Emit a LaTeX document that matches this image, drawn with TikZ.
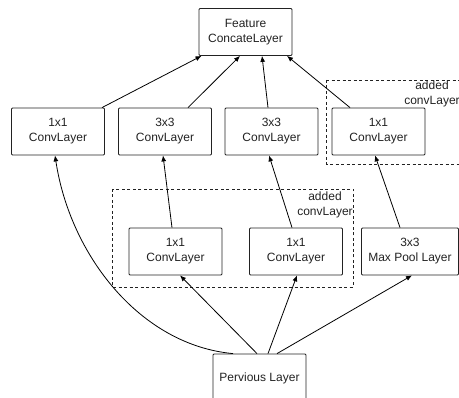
\documentclass[tikz,border=0pt]{standalone}
\usepackage{fontspec}
\setmainfont{Liberation Sans}
\usetikzlibrary{arrows.meta}
\definecolor{ink}{HTML}{222222}
\begin{document}
\begin{tikzpicture}[x=1pt,y=-1pt,
  layerbox/.style={draw=ink,line width=0.8pt,rounded corners=1pt,minimum width=93pt,minimum height=47pt,
    inner sep=0pt,align=center,font=\fontsize{12}{15}\selectfont,text=ink},
  groupbox/.style={draw=ink,line width=0.8pt,dash pattern=on 3pt off 2.5pt},
  grouplabel/.style={align=center,font=\fontsize{12}{15}\selectfont,text=ink,inner sep=0pt},
  link/.style={draw=black,line width=0.8pt,-{Latex[length=6pt,width=5pt]}}]
\useasboundingbox (0,0) rectangle (459,398);
\begin{scope}
\clip (0,0) rectangle (459,398);
% dashed groups
\draw[groupbox] (326,80) -- (470,80) (326,80) -- (326,164) -- (470,164);
\node[grouplabel] (lab1) at (432,94) {added\\convLayer};
\draw[groupbox] (112,189) rectangle (353,287);
\node[grouplabel] (lab2) at (325,205) {added\\convLayer};
% boxes
\node[layerbox] (feat) at (245.5,32) {Feature\\ConcateLayer};
\node[layerbox] (A) at (58,131.5) {1x1\\ConvLayer};
\node[layerbox] (B) at (165,131.5) {3x3\\ConvLayer};
\node[layerbox] (C) at (271.5,131.5) {3x3\\ConvLayer};
\node[layerbox] (D) at (378.5,131.5) {1x1\\ConvLayer};
\node[layerbox] (E) at (175.5,251.5) {1x1\\ConvLayer};
\node[layerbox] (F) at (296,251.5) {1x1\\ConvLayer};
\node[layerbox,minimum width=97pt] (G) at (410,251.5) {3x3\\Max Pool Layer};
\node[layerbox,minimum height=48pt] (P) at (259.5,378) {Pervious Layer};
% connectors
\draw[link] ([xshift=44pt]A.north) -- ([xshift=-44pt]feat.south);
\draw[link] ([xshift=23pt]B.north) -- ([xshift=-5.5pt]feat.south);
\draw[link] ([xshift=-3.5pt]C.north) -- ([xshift=16.5pt]feat.south);
\draw[link] ([xshift=-28.5pt]D.north) -- ([xshift=41.5pt]feat.south);
\draw[link] ([xshift=-3.5pt]E.north) -- ([xshift=-2pt]B.south);
\draw[link] ([xshift=-4pt]F.north) -- ([xshift=-2.5pt]C.south);
\draw[link] ([xshift=-10pt]G.north) -- ([xshift=-3.5pt]D.south);
\draw[link] ([xshift=-2.5pt]P.north) -- ([xshift=4.5pt]E.south);
\draw[link] ([xshift=8.5pt]P.north) -- ([xshift=1pt]F.south);
\draw[link] ([xshift=17.5pt]P.north) -- ([xshift=2pt]G.south);
\draw[link] ([xshift=-26.5pt]P.north) .. controls (140,345) and (70,255) .. ([xshift=-3pt]A.south);
\end{scope}
\end{tikzpicture}
\end{document}
